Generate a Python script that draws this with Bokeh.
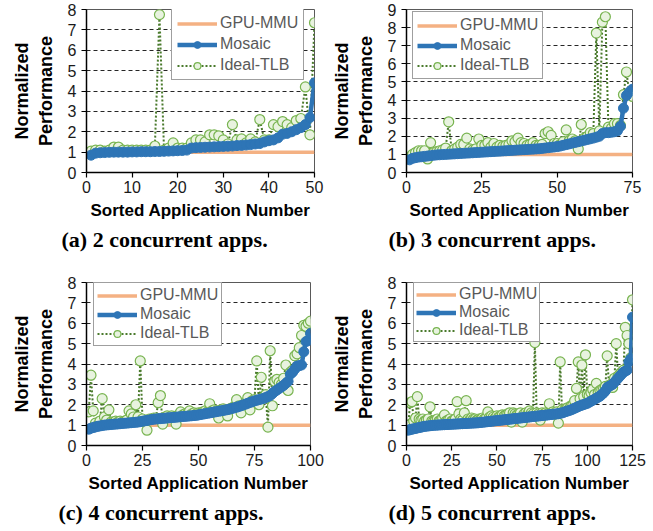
from bokeh.plotting import figure
from bokeh.layouts import gridplot
from bokeh.models import Legend, LegendItem, FixedTicker, Range1d, Title
from bokeh.embed import file_html
from bokeh.resources import INLINE

# ---------------- data ----------------
mosaic_a = [0.85, 0.95, 0.97, 0.98, 0.99, 1.0, 1.0, 1.0, 1.0, 1.01,
            1.01, 1.02, 1.02, 1.02, 1.03, 1.03, 1.04, 1.05, 1.06, 1.07,
            1.08, 1.1, 1.2, 1.22, 1.23, 1.24, 1.25, 1.26, 1.27, 1.28,
            1.29, 1.3, 1.32, 1.33, 1.35, 1.37, 1.4, 1.42, 1.5, 1.56,
            1.6, 1.7, 1.88, 1.92, 2.0, 2.1, 2.2, 2.35, 2.7, 4.4]
ideal_a = [1.05, 1.1, 1.1, 1.05, 1.1, 1.25, 1.25, 1.1, 1.1, 1.1,
           1.1, 1.1, 1.1, 1.1, 1.3, 7.75, 1.1, 1.2, 1.45, 1.2,
           1.2, 1.2, 1.45, 1.6, 1.6, 1.5, 1.85, 1.85, 1.8, 1.6,
           1.4, 2.35, 1.6, 1.65, 1.45, 1.65, 1.5, 2.6, 1.6, 1.6,
           2.35, 2.25, 2.5, 2.35, 2.2, 2.55, 2.65, 4.2, 1.85, 7.35]

mosaic_b = [0.7, 0.78, 0.82, 0.85, 0.87, 0.89, 0.91, 0.93, 0.95, 0.97,
            0.98, 0.99, 1.0, 1.01, 1.02, 1.03, 1.04, 1.05, 1.06, 1.07,
            1.08, 1.09, 1.1, 1.11, 1.12, 1.13, 1.14, 1.15, 1.16, 1.17,
            1.18, 1.19, 1.2, 1.21, 1.22, 1.23, 1.24, 1.25, 1.26, 1.27,
            1.28, 1.29, 1.3, 1.31, 1.33, 1.35, 1.37, 1.39, 1.41, 1.43,
            1.46, 1.5, 1.54, 1.58, 1.62, 1.66, 1.7, 1.74, 1.78, 1.82,
            1.86, 1.9, 1.95, 2.0, 2.15, 2.2, 2.2, 2.22, 2.25, 2.3,
            2.55, 3.55, 4.25, 4.45, 4.6]
ideal_b = [0.85, 1.0, 1.1, 1.2, 1.2, 1.2, 0.75, 1.65, 1.1, 1.15,
           1.2, 1.25, 1.35, 2.8, 1.2, 1.3, 1.4, 1.55, 1.55, 1.9,
           1.3, 1.25, 1.3, 1.85, 1.5, 1.5, 1.65, 1.4, 1.6, 1.4,
           1.5, 1.45, 1.5, 1.55, 1.75, 1.7, 1.9, 1.65, 1.6, 1.5,
           1.55, 1.65, 1.5, 1.5, 1.55, 2.15, 2.25, 2.05, 1.6, 1.6,
           1.55, 1.7, 2.35, 1.75, 1.85, 1.75, 1.3, 2.65, 1.9, 2.0,
           2.2, 2.15, 7.7, 2.3, 8.3, 8.6, 2.5, 2.45, 2.7, 2.7,
           2.6, 4.3, 5.55, 4.3, 4.2]

mosaic_c = [0.8, 0.85, 0.88, 0.91, 0.94, 0.96, 0.98, 1.0, 1.01, 1.02,
            1.03, 1.04, 1.05, 1.06, 1.07, 1.08, 1.09, 1.1, 1.11, 1.12,
            1.13, 1.14, 1.15, 1.17, 1.19, 1.21, 1.23, 1.25, 1.27, 1.29,
            1.3, 1.31, 1.32, 1.33, 1.34, 1.35, 1.36, 1.37, 1.38, 1.39,
            1.4, 1.41, 1.42, 1.43, 1.44, 1.45, 1.46, 1.47, 1.48, 1.5,
            1.52, 1.54, 1.56, 1.58, 1.6, 1.62, 1.64, 1.66, 1.68, 1.7,
            1.72, 1.74, 1.76, 1.79, 1.82, 1.85, 1.88, 1.91, 1.95, 1.99,
            2.03, 2.07, 2.11, 2.15, 2.19, 2.22, 2.25, 2.28, 2.31, 2.35,
            2.4, 2.45, 2.55, 2.65, 2.72, 2.8, 2.87, 2.95, 3.05, 3.15,
            3.5, 3.6, 3.75, 3.9, 3.92, 3.95, 4.6, 5.1, 5.15, 5.5]
ideal_c = [1.65, 3.45, 1.7, 1.1, 1.0, 1.2, 2.3, 1.4, 1.25, 1.75,
           1.15, 1.15, 1.2, 1.15, 1.2, 1.15, 1.2, 1.25, 1.7, 1.55,
           1.4, 2.0, 1.4, 4.15, 1.3, 1.2, 0.75, 1.3, 1.3, 1.35,
           1.35, 2.1, 2.45, 1.05, 1.4, 1.45, 1.4, 1.45, 1.4, 1.05,
           1.5, 1.65, 1.5, 1.55, 1.55, 1.7, 1.55, 1.6, 1.55, 1.6,
           1.6, 1.65, 1.7, 1.65, 2.05, 1.7, 1.75, 1.7, 1.35, 1.75,
           1.8, 1.75, 1.45, 1.8, 1.85, 1.9, 2.25, 1.95, 1.6, 2.0,
           2.1, 2.35, 1.75, 2.2, 2.25, 4.15, 2.0, 3.35, 2.35, 2.5,
           0.9, 4.65, 1.95, 3.15, 3.25, 3.1, 3.0, 3.3, 3.95, 2.7,
           3.6, 3.7, 4.4, 4.5, 4.8, 5.4, 5.9, 5.85, 6.0, 6.1]

mosaic_d = [0.75, 0.78, 0.8, 0.82, 0.84, 0.86, 0.88, 0.9, 0.92, 0.94,
            0.95, 0.96, 0.97, 0.98, 0.99, 1.0, 1.0, 1.01, 1.01, 1.02,
            1.02, 1.03, 1.03, 1.04, 1.04, 1.05, 1.05, 1.06, 1.06, 1.07,
            1.07, 1.08, 1.08, 1.09, 1.09, 1.1, 1.1, 1.11, 1.11, 1.12,
            1.13, 1.14, 1.15, 1.16, 1.17, 1.18, 1.19, 1.2, 1.21, 1.22,
            1.23, 1.24, 1.25, 1.26, 1.27, 1.28, 1.29, 1.3, 1.31, 1.32,
            1.33, 1.34, 1.35, 1.36, 1.37, 1.38, 1.39, 1.4, 1.41, 1.42,
            1.43, 1.44, 1.45, 1.46, 1.47, 1.48, 1.49, 1.5, 1.51, 1.52,
            1.53, 1.54, 1.55, 1.56, 1.58, 1.6, 1.63, 1.66, 1.69, 1.72,
            1.75, 1.79, 1.83, 1.87, 1.91, 1.95, 1.98, 2.01, 2.04, 2.07,
            2.12, 2.17, 2.22, 2.27, 2.32, 2.37, 2.42, 2.5, 2.58, 2.68,
            2.85, 2.9, 2.95, 3.0, 3.1, 3.2, 3.3, 3.4, 3.5, 3.6,
            3.65, 3.7, 4.1, 4.25, 6.3]
ideal_d = [1.0, 2.1, 2.15, 1.2, 1.35, 2.4, 1.3, 1.25, 1.3, 1.2,
           1.25, 1.3, 1.9, 1.2, 1.2, 1.25, 1.3, 1.2, 1.25, 1.35,
           1.5, 1.2, 1.25, 1.3, 1.2, 1.25, 1.3, 2.15, 1.55, 1.3,
           1.25, 1.6, 2.2, 1.3, 1.25, 1.35, 1.3, 1.3, 1.25, 1.3,
           1.3, 1.35, 1.3, 1.35, 1.65, 1.4, 1.45, 1.4, 1.35, 1.45,
           1.4, 1.45, 1.5, 1.45, 1.5, 1.55, 1.6, 1.15, 1.6, 1.55,
           1.5, 1.55, 1.6, 1.15, 1.55, 1.6, 1.55, 1.7, 1.6, 1.55,
           5.05, 1.6, 1.55, 1.25, 1.6, 1.55, 1.6, 1.55, 2.05, 1.6,
           1.65, 1.6, 1.65, 1.1, 4.1, 1.75, 1.7, 1.8, 1.85, 1.8,
           1.95, 2.0, 2.2, 2.8, 4.1, 2.3, 3.95, 2.4, 4.45, 2.5,
           2.45, 2.6, 2.75, 2.5, 3.05, 2.6, 2.7, 2.75, 2.8, 2.9,
           4.4, 2.95, 3.0, 2.85, 3.3, 5.0, 3.4, 3.5, 3.6, 3.7,
           5.8, 5.4, 5.0, 4.3, 7.15]

apps_a = list(range(1, 51))
apps_b = list(range(1, 76))
apps_c = list(range(1, 101))
apps_d = list(range(1, 126))
gpu_a = [1.0] * 50
gpu_b = [1.0] * 75
gpu_c = [1.0] * 100
gpu_d = [1.0] * 125

xticks_a = [0, 10, 20, 30, 40, 50]
xticks_b = [0, 25, 50, 75]
xticks_c = [0, 25, 50, 75, 100]
xticks_d = [0, 25, 50, 75, 100, 125]
yticks_8 = [0, 1, 2, 3, 4, 5, 6, 7, 8]
yticks_9 = [0, 1, 2, 3, 4, 5, 6, 7, 8, 9]

captions = ["(a) 2 concurrent apps.", "(b) 3 concurrent apps.",
            "(c) 4 concurrent apps.", "(d) 5 concurrent apps."]
series_names = ["GPU-MMU", "Mosaic", "Ideal-TLB"]

SANS = "Liberation Sans"
C_GPU = "#F4B183"
C_MOS = "#2E75B6"
C_IDEAL_LINE = "#4A7A2C"
C_IDEAL_EDGE = "#78B450"
C_IDEAL_FILL = "#E8F3DF"


def panel(apps, mosaic, ideal, gpu, xmax, ymax, xticks, yticks, caption,
          fw, fh, bl, br, bt, bb, leg_loc, leg_spacing, leg_padding, cap_off):
    p = figure(frame_width=fw, frame_height=fh,
               x_range=Range1d(0, xmax), y_range=Range1d(0, ymax),
               output_backend="svg", toolbar_location=None, title=None,
               min_border_left=bl, min_border_right=br, min_border_top=bt,
               min_border_bottom=bb)
    p.background_fill_color = "white"
    p.border_fill_color = "white"
    p.outline_line_color = "#595959"
    p.outline_line_width = 1

    p.xgrid.visible = False
    p.ygrid.grid_line_color = "#262626"
    p.ygrid.grid_line_dash = "4 3"
    p.ygrid.grid_line_width = 1

    p.xaxis.ticker = FixedTicker(ticks=xticks)
    p.yaxis.ticker = FixedTicker(ticks=yticks)
    p.ygrid.ticker = FixedTicker(ticks=yticks[1:-1])
    for ax in (p.xaxis, p.yaxis):
        ax.axis_line_color = "black"
        ax.axis_line_width = 1.5
        ax.major_tick_line_color = "black"
        ax.major_tick_line_width = 1.2
        ax.major_tick_out = 5
        ax.major_tick_in = 0
        ax.minor_tick_line_color = None
        ax.major_label_text_font = SANS
        ax.major_label_text_font_size = "16px"
        ax.major_label_text_color = "#1a1a1a"
        ax.axis_label_text_font = SANS
        ax.axis_label_text_font_style = "bold"
        ax.axis_label_text_font_size = "17px"
        ax.axis_label_text_color = "black"
    p.xaxis.major_label_standoff = 3
    p.yaxis.major_label_standoff = 5
    p.xaxis.axis_label = "Sorted Application Number"
    p.xaxis.axis_label_standoff = 5
    p.yaxis.axis_label = "Normalized\nPerformance"
    p.yaxis.axis_label_text_font_size = "18px"
    p.yaxis.axis_label_standoff = 9

    r_gpu = p.line(apps, gpu, line_color=C_GPU, line_width=3.5)
    r_il = p.line(apps, ideal, line_color=C_IDEAL_LINE, line_width=2, line_dash="2 2")
    r_is = p.scatter(apps, ideal, marker="circle", size=10, fill_color=C_IDEAL_FILL,
                     line_color=C_IDEAL_EDGE, line_width=1.2)
    r_ml = p.line(apps, mosaic, line_color=C_MOS, line_width=4.5)
    r_ms = p.scatter(apps, mosaic, marker="circle", size=10, fill_color=C_MOS,
                     line_color=C_MOS)

    leg = Legend(items=[LegendItem(label=series_names[0], renderers=[r_gpu]),
                        LegendItem(label=series_names[1], renderers=[r_ml, r_ms]),
                        LegendItem(label=series_names[2], renderers=[r_il, r_is])],
                 location=leg_loc)
    leg.border_line_color = "#404040"
    leg.border_line_width = 1
    leg.background_fill_color = "white"
    leg.background_fill_alpha = 1
    leg.label_text_font = SANS
    leg.label_text_font_size = "16px"
    leg.label_text_color = "#595959"
    leg.glyph_width = 40
    leg.glyph_height = 17
    leg.label_height = 17
    leg.label_standoff = 3
    leg.spacing = leg_spacing
    leg.padding = leg_padding
    leg.margin = 0
    p.add_layout(leg)

    t = Title(text=caption, align="left", text_font="Liberation Serif",
              text_font_style="bold", text_font_size="22px", text_color="black",
              offset=cap_off, standoff=4)
    p.add_layout(t, "below")
    return p


pa = panel(apps_a, mosaic_a, ideal_a, gpu_a, 50, 8, xticks_a, yticks_8, captions[0],
           228, 163, 83, 15, 9, 78, (85, 92), 3, 5, -25)
pb = panel(apps_b, mosaic_b, ideal_b, gpu_b, 75, 9, xticks_b, yticks_9, captions[1],
           226, 163, 80, 20, 9, 78, (6, 93), 2, 4, -18)
pc = panel(apps_c, mosaic_c, ideal_c, gpu_c, 100, 8, xticks_c, yticks_8, captions[2],
           224, 163, 86, 16, 29, 78, (7, 99), 1, 3, -28)
pd = panel(apps_d, mosaic_d, ideal_d, gpu_d, 125, 8, xticks_d, yticks_8, captions[3],
           226, 163, 80, 20, 29, 78, (7, 103), 0, 2, -18)

grid = gridplot([[pa, pb], [pc, pd]], toolbar_location=None)

open("out.html", "w").write(file_html(grid, INLINE))
